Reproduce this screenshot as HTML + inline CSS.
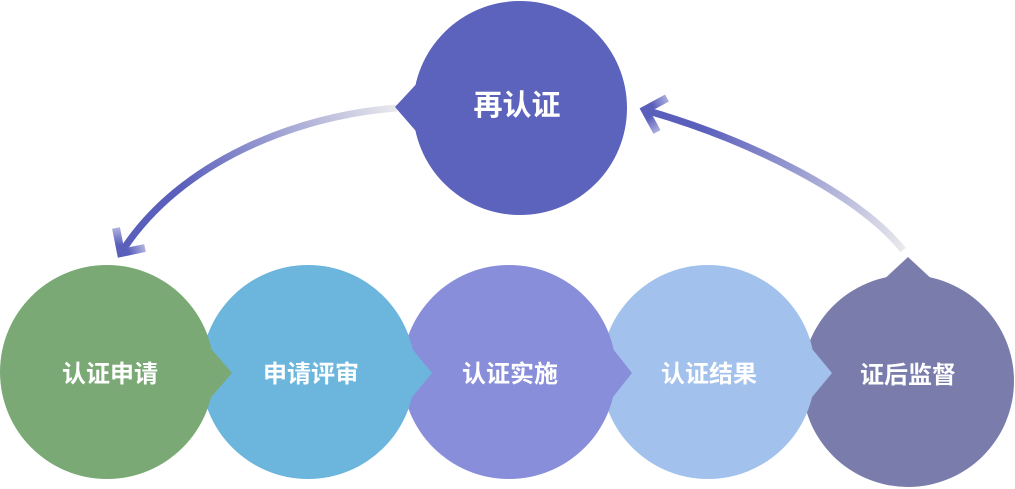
<!DOCTYPE html>
<html>
<head>
<meta charset="utf-8">
<style>
  html,body{margin:0;padding:0;background:#fff;}
  svg{display:block;}
  text{font-family:"Liberation Sans","Noto Sans CJK SC",sans-serif;font-weight:bold;fill:#fff;}
</style>
</head>
<body>
<svg width="1015" height="489" viewBox="0 0 1015 489" xmlns="http://www.w3.org/2000/svg">
  <defs>
    <linearGradient id="gL" gradientUnits="userSpaceOnUse" x1="397" y1="108" x2="125" y2="245">
      <stop offset="0" stop-color="#e9e9ec"/>
      <stop offset="0.75" stop-color="#5a5fbb"/>
      <stop offset="1" stop-color="#5a5fbb"/>
    </linearGradient>
    <linearGradient id="gR" gradientUnits="userSpaceOnUse" x1="903" y1="250" x2="645" y2="110">
      <stop offset="0" stop-color="#e9e9ec"/>
      <stop offset="0.8" stop-color="#5a5fbb"/>
      <stop offset="1" stop-color="#5a5fbb"/>
    </linearGradient>
    <radialGradient id="hL" gradientUnits="userSpaceOnUse" cx="118" cy="256" r="32">
      <stop offset="0.35" stop-color="#5a5fbb"/>
      <stop offset="1" stop-color="#c3c4e6"/>
    </radialGradient>
    <radialGradient id="hR" gradientUnits="userSpaceOnUse" cx="642" cy="109" r="32">
      <stop offset="0.35" stop-color="#5a5fbb"/>
      <stop offset="1" stop-color="#c3c4e6"/>
    </radialGradient>
  </defs>

  <!-- arrows -->
  <path d="M397,108 C300,115 180,160 121,253" fill="none" stroke="url(#gL)" stroke-width="7"/>
  <polyline points="116,228 121,253 145,248" fill="none" stroke="url(#hL)" stroke-width="8" stroke-linejoin="miter"/>

  <path d="M903,250 C860,195 750,140 645,110" fill="none" stroke="url(#gR)" stroke-width="7"/>
  <polyline points="667,98 645,110 657,132" fill="none" stroke="url(#hR)" stroke-width="8" stroke-linejoin="miter"/>

  <!-- top circle -->
  <g fill="#5b63bc">
    <circle cx="520" cy="108" r="107"/>
    <polygon points="421,79 395,107 421,137"/>
  </g>
  <text x="517" y="115" font-size="29" text-anchor="middle">再认证</text>

  <!-- dark (drawn first) -->
  <g fill="#7a7dac">
    <circle cx="908" cy="381" r="106"/>
    <polygon points="880,283 908,257 936,283"/>
  </g>
  <!-- light blue -->
  <g fill="#a2c1ec">
    <circle cx="708" cy="372" r="107"/>
    <polygon points="808,344 832,373 808,402"/>
  </g>
  <!-- purple -->
  <g fill="#888ed9">
    <circle cx="509" cy="372" r="107"/>
    <polygon points="609,344 632,373 609,402"/>
  </g>
  <!-- blue -->
  <g fill="#6cb6dd">
    <circle cx="308" cy="372" r="107"/>
    <polygon points="408,344 432,373 408,402"/>
  </g>
  <!-- green -->
  <g fill="#7aa975">
    <circle cx="107" cy="372" r="107"/>
    <polygon points="207,344 232,373 207,402"/>
  </g>

  <text x="110" y="382" font-size="24" text-anchor="middle">认证申请</text>
  <text x="311" y="382" font-size="24" text-anchor="middle">申请评审</text>
  <text x="510" y="382" font-size="24" text-anchor="middle">认证实施</text>
  <text x="709" y="382" font-size="24" text-anchor="middle">认证结果</text>
  <text x="908" y="383" font-size="24" text-anchor="middle">证后监督</text>
</svg>
</body>
</html>
